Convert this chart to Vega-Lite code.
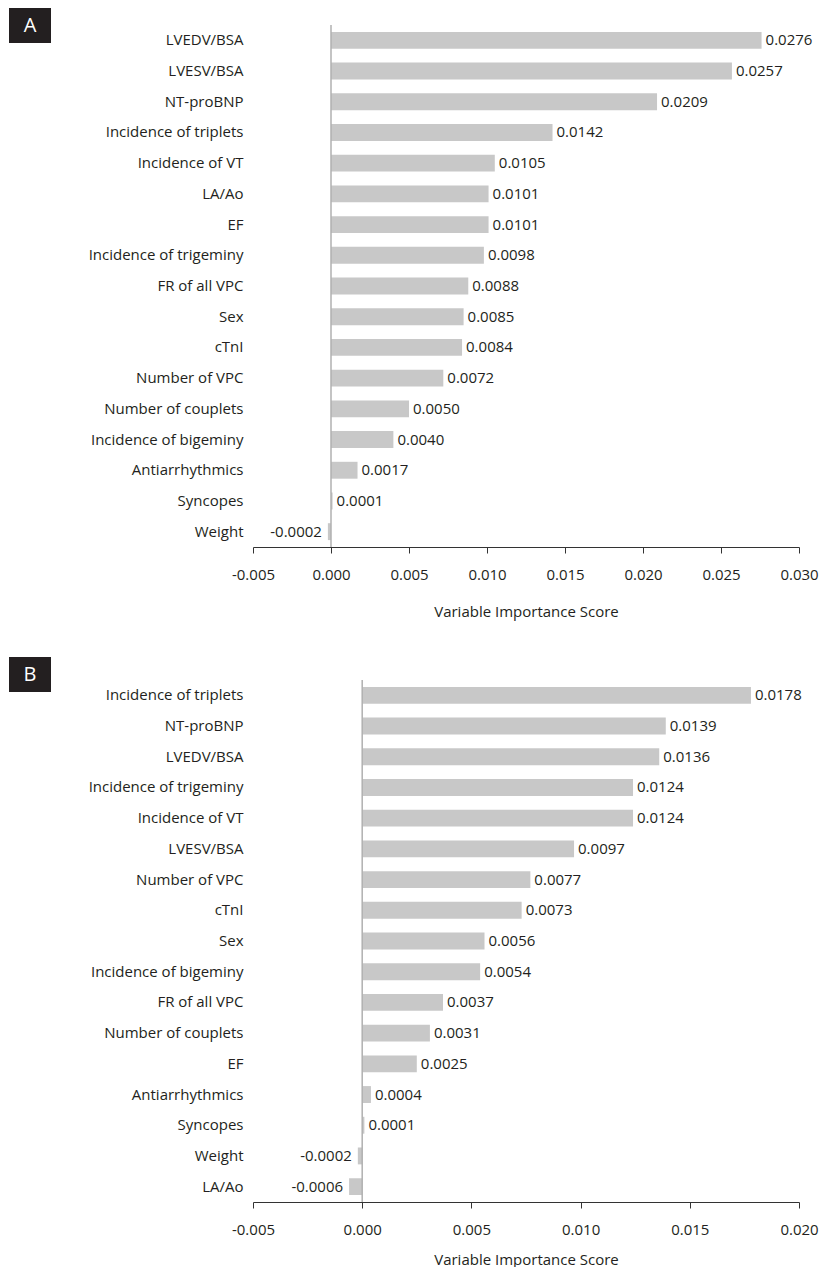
{
  "$schema": "https://vega.github.io/schema/vega-lite/v6.json",
  "padding": {"left": 9, "top": 8, "right": 0, "bottom": 0},
  "config": {
    "view": {"stroke": null},
    "font": "Open Sans",
    "locale": {"number": {"decimal": ".", "thousands": ",", "grouping": [3], "currency": ["$", ""], "minus": "-"}},
    "axis": {"labelColor": "#231f20", "titleColor": "#231f20", "labelFontSize": 15, "titleFontSize": 15, "titleFontWeight": "normal"}
  },
  "datasets": {
    "A": [
      {"var": "LVEDV/BSA", "v": 0.0276},
      {"var": "LVESV/BSA", "v": 0.0257},
      {"var": "NT-proBNP", "v": 0.0209},
      {"var": "Incidence of triplets", "v": 0.0142},
      {"var": "Incidence of VT", "v": 0.0105},
      {"var": "LA/Ao", "v": 0.0101},
      {"var": "EF", "v": 0.0101},
      {"var": "Incidence of trigeminy", "v": 0.0098},
      {"var": "FR of all VPC", "v": 0.0088},
      {"var": "Sex", "v": 0.0085},
      {"var": "cTnI", "v": 0.0084},
      {"var": "Number of VPC", "v": 0.0072},
      {"var": "Number of couplets", "v": 0.0050},
      {"var": "Incidence of bigeminy", "v": 0.0040},
      {"var": "Antiarrhythmics", "v": 0.0017},
      {"var": "Syncopes", "v": 0.0001},
      {"var": "Weight", "v": -0.0002}
    ],
    "B": [
      {"var": "Incidence of triplets", "v": 0.0178},
      {"var": "NT-proBNP", "v": 0.0139},
      {"var": "LVEDV/BSA", "v": 0.0136},
      {"var": "Incidence of trigeminy", "v": 0.0124},
      {"var": "Incidence of VT", "v": 0.0124},
      {"var": "LVESV/BSA", "v": 0.0097},
      {"var": "Number of VPC", "v": 0.0077},
      {"var": "cTnI", "v": 0.0073},
      {"var": "Sex", "v": 0.0056},
      {"var": "Incidence of bigeminy", "v": 0.0054},
      {"var": "FR of all VPC", "v": 0.0037},
      {"var": "Number of couplets", "v": 0.0031},
      {"var": "EF", "v": 0.0025},
      {"var": "Antiarrhythmics", "v": 0.0004},
      {"var": "Syncopes", "v": 0.0001},
      {"var": "Weight", "v": -0.0002},
      {"var": "LA/Ao", "v": -0.0006}
    ],
    "labA": [{"p": "A"}],
    "labB": [{"p": "B"}]
  },
  "spacing": 38,
  "vconcat": [
    {
      "spacing": 37,
      "hconcat": [
        {
          "width": 42, "height": 18,
          "data": {"name": "labA"},
          "encoding": {
            "x": {"field": "p", "type": "nominal", "axis": null, "scale": {"paddingInner": 0, "paddingOuter": 0}}
          },
          "layer": [
            {"mark": {"type": "rect", "color": "#231f20"},
             "encoding": {"y": {"datum": 0, "type": "quantitative", "axis": null, "scale": {"domain": [0, 18], "nice": false}}, "y2": {"datum": 35}}},
            {"mark": {"type": "text", "color": "white", "fontSize": 20}, "encoding": {"y": {"datum": 17.5, "type": "quantitative"}, "text": {"field": "p"}}}
          ]
        },
        {
          "width": 546, "height": 522,
          "data": {"name": "A"},
          "layer": [
            {
              "mark": {"type": "bar", "color": "#c8c8c8"},
              "encoding": {
                "y": {"field": "var", "type": "nominal", "sort": null, "scale": {"paddingInner": 0.45, "paddingOuter": 0.225},
                      "axis": {"title": null, "domain": false, "ticks": false, "labelPadding": 10, "minExtent": 163, "maxExtent": 163}},
                "x": {"field": "v", "type": "quantitative", "scale": {"domain": [-0.005, 0.03], "nice": false, "zero": false},
                      "axis": {"title": "Variable Importance Score", "values": [-0.005, 0, 0.005, 0.01, 0.015, 0.02, 0.025, 0.03], "format": ".3f",
                               "grid": false, "domainColor": "#333333", "tickColor": "#333333", "tickSize": 6, "labelPadding": 14, "titlePadding": 22, "labelFlush": false}}
              }
            },
            {
              "data": {"values": [{}]},
              "mark": {"type": "rule", "color": "#b0b0b0", "strokeWidth": 1.5},
              "encoding": {"x": {"datum": 0}}
            },
            {
              "transform": [{"filter": "datum.v >= 0"}],
              "mark": {"type": "text", "align": "left", "dx": 4, "fontSize": 15, "color": "#231f20"},
              "encoding": {
                "y": {"field": "var", "type": "nominal", "sort": null},
                "x": {"field": "v", "type": "quantitative"},
                "text": {"field": "v", "type": "quantitative", "format": ".4f"}
              }
            },
            {
              "transform": [{"filter": "datum.v < 0"}],
              "mark": {"type": "text", "align": "right", "dx": -6, "fontSize": 15, "color": "#231f20"},
              "encoding": {
                "y": {"field": "var", "type": "nominal", "sort": null},
                "x": {"field": "v", "type": "quantitative"},
                "text": {"field": "v", "type": "quantitative", "format": ".4f"}
              }
            }
          ]
        }
      ]
    },
    {
      "spacing": 37,
      "hconcat": [
        {
          "width": 42, "height": 12,
          "data": {"name": "labB"},
          "encoding": {
            "x": {"field": "p", "type": "nominal", "axis": null, "scale": {"paddingInner": 0, "paddingOuter": 0}}
          },
          "layer": [
            {"mark": {"type": "rect", "color": "#231f20"},
             "encoding": {"y": {"datum": 0, "type": "quantitative", "axis": null, "scale": {"domain": [0, 12], "nice": false}}, "y2": {"datum": 35}}},
            {"mark": {"type": "text", "color": "white", "fontSize": 20}, "encoding": {"y": {"datum": 17.5, "type": "quantitative"}, "text": {"field": "p"}}}
          ]
        },
        {
          "width": 546, "height": 522,
          "data": {"name": "B"},
          "layer": [
            {
              "mark": {"type": "bar", "color": "#c8c8c8"},
              "encoding": {
                "y": {"field": "var", "type": "nominal", "sort": null, "scale": {"paddingInner": 0.45, "paddingOuter": 0.225},
                      "axis": {"title": null, "domain": false, "ticks": false, "labelPadding": 10, "minExtent": 163, "maxExtent": 163}},
                "x": {"field": "v", "type": "quantitative", "scale": {"domain": [-0.005, 0.02], "nice": false, "zero": false},
                      "axis": {"title": "Variable Importance Score", "values": [-0.005, 0, 0.005, 0.01, 0.015, 0.02], "format": ".3f",
                               "grid": false, "domainColor": "#333333", "tickColor": "#333333", "tickSize": 6, "labelPadding": 14, "titlePadding": 15, "labelFlush": false}}
              }
            },
            {
              "data": {"values": [{}]},
              "mark": {"type": "rule", "color": "#b0b0b0", "strokeWidth": 1.5},
              "encoding": {"x": {"datum": 0}}
            },
            {
              "transform": [{"filter": "datum.v >= 0"}],
              "mark": {"type": "text", "align": "left", "dx": 4, "fontSize": 15, "color": "#231f20"},
              "encoding": {
                "y": {"field": "var", "type": "nominal", "sort": null},
                "x": {"field": "v", "type": "quantitative"},
                "text": {"field": "v", "type": "quantitative", "format": ".4f"}
              }
            },
            {
              "transform": [{"filter": "datum.v < 0"}],
              "mark": {"type": "text", "align": "right", "dx": -6, "fontSize": 15, "color": "#231f20"},
              "encoding": {
                "y": {"field": "var", "type": "nominal", "sort": null},
                "x": {"field": "v", "type": "quantitative"},
                "text": {"field": "v", "type": "quantitative", "format": ".4f"}
              }
            }
          ]
        }
      ]
    }
  ]
}
